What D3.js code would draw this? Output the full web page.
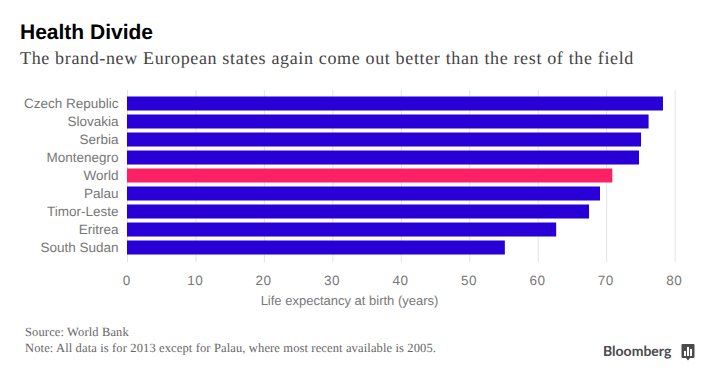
<!DOCTYPE html>
<html><head><meta charset="utf-8">
<script src="https://cdn.jsdelivr.net/npm/d3@7"></script>
<style>
html,body{margin:0;padding:0;background:#fff}
svg{display:block}
text{text-rendering:geometricPrecision}
</style></head><body>
<svg id="c" width="720" height="386"></svg>
<script>
const categories=["Czech Republic","Slovakia","Serbia","Montenegro","World","Palau","Timor-Leste","Eritrea","South Sudan"];
const values=[78.3,76.2,75.1,74.8,70.9,69.1,67.5,62.7,55.2];
const highlighted=["World"];
const xTicks=[0,10,20,30,40,50,60,70,80];
const title="Health Divide";
const subtitle="The brand-new European states again come out better than the rest of the field";
const axisLabel="Life expectancy at birth (years)";
const sourceText="Source: World Bank";
const noteText="Note: All data is for 2013 except for Palau, where most recent available is 2005.";

const svg=d3.select("#c");
const x=d3.scaleLinear().domain([0,80]).range([127,674.6]);
const y=d3.scaleBand().domain(categories).range([94.5,256.5]).paddingInner(0.222).paddingOuter(0.111);
const sans="'Liberation Sans',Arial,sans-serif";
const serif="'Liberation Serif',serif";

svg.append("text").attr("x",20).attr("y",38.5).attr("font-family",sans).attr("font-weight",700).attr("font-size",21).attr("fill","#000").text(title);
svg.append("text").attr("x",20).attr("y",64).attr("font-family",serif).attr("font-size",18).attr("letter-spacing",0.65).attr("fill","#444").text(subtitle);

const ax=svg.append("g").attr("transform","translate(0,90)")
 .call(d3.axisBottom(x).tickValues(xTicks).tickSize(172).tickPadding(0).tickSizeOuter(0));
ax.select(".domain").remove();
ax.selectAll("line").attr("stroke","#e3e3e3").attr("stroke-width",1);
ax.selectAll("text").attr("x",-0.8).attr("y",195).attr("dy",0).attr("font-family",sans).attr("font-size",13.5).attr("letter-spacing",0.5).attr("fill","#777");

svg.append("g").selectAll("rect").data(categories).join("rect")
 .attr("x",x(0)).attr("y",d=>y(d)).attr("height",y.bandwidth())
 .attr("width",(d,i)=>x(values[i])-x(0))
 .attr("fill",d=>highlighted.includes(d)?"#fb2164":"#2800d7");

svg.append("g").selectAll("text").data(categories).join("text")
 .attr("x",118.5).attr("y",d=>y(d)+y.bandwidth()/2+4.5).attr("text-anchor","end")
 .attr("font-family",sans).attr("font-size",13.5).attr("fill","#777").text(d=>d);

svg.append("text").attr("x",349.5).attr("y",305).attr("text-anchor","middle").attr("font-family",sans).attr("font-size",13).attr("fill","#777").text(axisLabel);
svg.append("text").attr("x",25).attr("y",336).attr("font-family",serif).attr("font-size",12.5).attr("letter-spacing",0.13).attr("fill","#666").text(sourceText);
svg.append("text").attr("x",25).attr("y",352).attr("font-family",serif).attr("font-size",12.5).attr("letter-spacing",0.13).attr("fill","#666").text(noteText);
svg.append("text").attr("x",603).attr("y",356).attr("font-family","Lato,sans-serif").attr("font-weight",700).attr("font-size",14).attr("fill","#4a4a4f").text("Bloomberg");

const logo=svg.append("g").attr("transform","translate(680.5,344)");
logo.append("path").attr("d","M2 0H13Q14 0 14 1V13Q14 14 13 14H9.5L7.5 16.5L5.5 14H2Q1 14 1 13V1Q1 0 2 0Z").attr("fill","#4a4a4f");
[[3.5,7,2],[6.5,3,2],[9.5,5,2]].forEach(b=>logo.append("rect").attr("x",b[0]).attr("y",b[1]).attr("width",b[2]).attr("height",12-b[1]).attr("fill","#fff"));
</script>
</body></html>
